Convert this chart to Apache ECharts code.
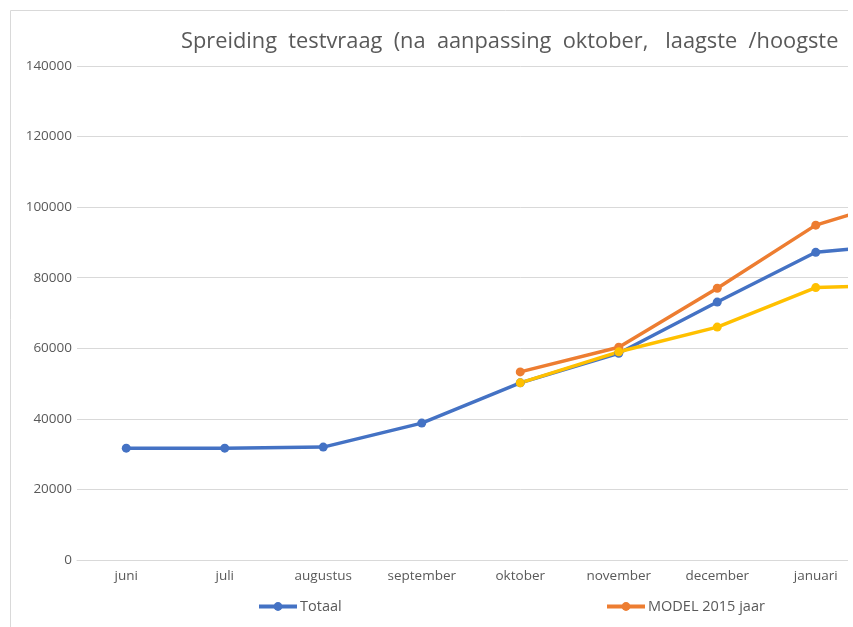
<!DOCTYPE html>
<html>
<head>
<meta charset="utf-8">
<script src="https://cdn.jsdelivr.net/npm/echarts@6/dist/echarts.min.js"></script>
<style>
  html, body { margin: 0; padding: 0; background: #fff; }
  #wrap { position: absolute; left: 0; top: 0; width: 848px; height: 627px; overflow: hidden; }
  #chart { width: 1000px; height: 627px; }
</style>
</head>
<body>
<div id="wrap"><div id="chart"></div></div>
<script>
var months = ['juni', 'juli', 'augustus', 'september', 'oktober', 'november', 'december', 'januari', 'februari'];
var totaal = [31700, 31700, 32000, 38800, 50200, 58600, 73100, 87200, 89800];
var modelHoog = [null, null, null, null, 53300, 60300, 77000, 94900, 103400];
var modelLaag = [null, null, null, null, 50200, 59000, 66000, 77200, 78000];
var yTicks = { min: 0, max: 140000, interval: 20000 };

var dom = document.getElementById('chart');
var myChart = echarts.init(dom, null, { renderer: 'canvas' });
var font = 'Open Sans';
var grey = '#595959';

function lineSeries(name, data, color) {
    return {
        name: name,
        type: 'line',
        data: data,
        color: color,
        symbol: 'circle',
        symbolSize: 9,
        lineStyle: { width: 3.5, color: color },
        itemStyle: { color: color },
        connectNulls: false
    };
}

var legendCommon = {
    top: 594,
    itemWidth: 38,
    itemHeight: 11,
    itemGap: 4,
    lineStyle: { width: 4 },
    textStyle: { fontFamily: font, fontSize: 14.5, color: grey, padding: [0, 0, 0, -2] }
};

var option = {
    animation: false,
    graphic: [{
        type: 'rect',
        shape: { x: 10.5, y: 10.5, width: 1200, height: 640 },
        style: { fill: 'none', stroke: '#d9d9d9', lineWidth: 1 }
    }],
    title: {
        text: 'Spreiding  testvraag  (na  aanpassing  oktober,   laagste  /hoogste',
        left: 176,
        top: 26,
        textStyle: { fontFamily: font, fontSize: 21.8, fontWeight: 'normal', color: grey }
    },
    legend: [
        Object.assign({ data: ['Totaal'], left: 252 }, legendCommon),
        Object.assign({ data: ['MODEL 2015 jaar'], left: 600 }, legendCommon)
    ],
    grid: { left: 77, right: 36.5, top: 66, bottom: 67, containLabel: false },
    xAxis: {
        type: 'category',
        data: months,
        boundaryGap: true,
        axisLine: { lineStyle: { color: '#d9d9d9' } },
        axisTick: { show: false },
        axisLabel: { fontFamily: font, fontSize: 13.5, color: grey, margin: 9 }
    },
    yAxis: {
        type: 'value',
        min: yTicks.min,
        max: yTicks.max,
        interval: yTicks.interval,
        axisLine: { show: false },
        axisTick: { show: false },
        splitLine: { lineStyle: { color: '#d9d9d9' } },
        axisLabel: {
            fontFamily: font, fontSize: 13.5, color: grey, margin: 5,
            formatter: function (v) { return String(v); }
        }
    },
    series: [
        lineSeries('Totaal', totaal, '#4472C4'),
        lineSeries('MODEL 2015 jaar', modelHoog, '#ED7D31'),
        lineSeries('MODEL 2015 laagste', modelLaag, '#FFC000')
    ]
};

myChart.setOption(option);
window.addEventListener('resize', myChart.resize);
</script>
</body>
</html>
